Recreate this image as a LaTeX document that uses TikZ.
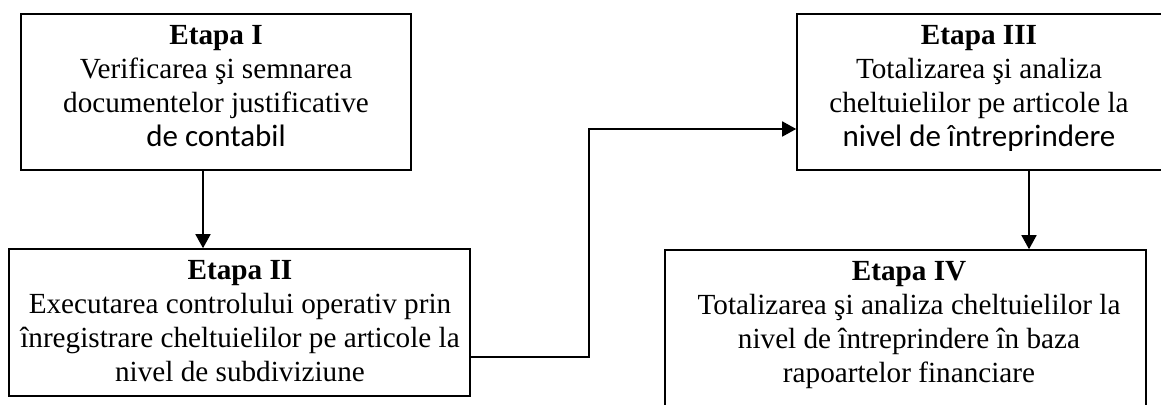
\documentclass[tikz,border=0pt]{standalone}
\usepackage{fontspec}
\setmainfont{Liberation Serif}
\newfontfamily\calibrifont{Carlito}
\usetikzlibrary{arrows.meta}
\newcommand{\calline}[1]{{\calibrifont\fontsize{15.5}{17.1}\selectfont #1}}
\tikzset{
  box/.style={draw=black, line width=0.8pt, rectangle, inner sep=0pt, fill=white},
  boxtext/.style={inner sep=0pt, align=center, anchor=base, font=\fontsize{14.6}{17.1}\selectfont},
  arr/.style={draw=black, line width=0.8pt, -{Triangle[length=7pt,width=7.5pt]}},
  conn/.style={draw=black, line width=0.8pt}
}
\begin{document}
\begin{tikzpicture}[x=0.5pt,y=-0.5pt]
\clip (0,0) rectangle (1161,405);
\fill[white] (0,0) rectangle (1161,405);
% boxes
\node[box, minimum width=195pt, minimum height=78pt] (b1) at (216,92) {};
\node[box, minimum width=230.5pt, minimum height=73.5pt] (b2) at (239.5,322.5) {};
\node[box, minimum width=183pt, minimum height=78pt] (b3) at (980,92) {};
\node[box, minimum width=240.5pt, minimum height=85pt] (b4) at (905.5,335) {};
% texts (base anchor = baseline of the last line)
\node[boxtext] (t1) at (216,147) {\textbf{Etapa I}\\Verificarea şi semnarea\\documentelor justificative\\\calline{de contabil}};
\node[boxtext] (t2) at (240,382) {\textbf{Etapa II}\\Executarea controlului operativ prin\\înregistrare cheltuielilor pe articole la\\nivel de subdiviziune};
\node[boxtext] (t3) at (979,147) {\textbf{Etapa III}\\Totalizarea şi analiza\\cheltuielilor pe articole la\\\calline{nivel de întreprindere}};
\node[boxtext] (t4) at (909,383) {\textbf{Etapa IV}\\Totalizarea şi analiza cheltuielilor la\\nivel de întreprindere în baza\\rapoartelor financiare};
% connector helper coordinates
\coordinate (c1) at (203,0);
\coordinate (k1) at (589,357);
\coordinate (k2) at (589,129);
\coordinate (c3) at (1029,0);
% connectors
\draw[arr] (b1.south -| c1) -- (b2.north -| c1);
\draw[arr] (b2.east |- k1) -- (k1) -- (k2) -- (b3.west |- k2);
\draw[arr] (b3.south -| c3) -- (b4.north -| c3);
\end{tikzpicture}
\end{document}
